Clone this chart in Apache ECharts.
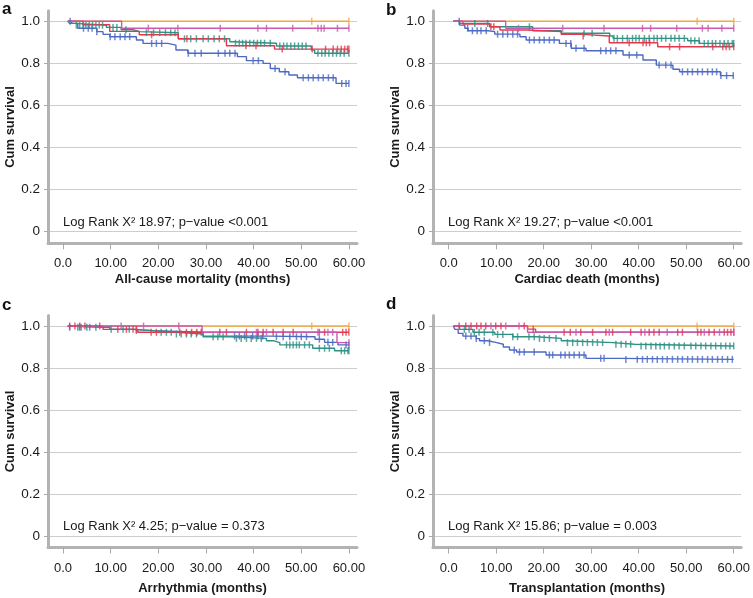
<!DOCTYPE html>
<html>
<head>
<meta charset="utf-8">
<script src="https://cdn.jsdelivr.net/npm/echarts@6/dist/echarts.min.js"></script>
<style>
html,body{margin:0;padding:0;background:#fff;}
#chart{width:753px;height:598px;}
</style>
</head>
<body>
<div id="chart"></div>
<script>
// ---------- Tick labels / titles ----------
const xTickValues = [0, 10, 20, 30, 40, 50, 60];
const yTickValues = [0, 0.2, 0.4, 0.6, 0.8, 1.0];
const panelLetters = ['a', 'b', 'c', 'd'];
const xAxisNames = ['All-cause mortality (months)', 'Cardiac death (months)', 'Arrhythmia (months)', 'Transplantation (months)'];
const yAxisName = 'Cum survival';
const logRankTexts = [
  'Log Rank X\u00B2 18.97; p\u2212value <0.001',
  'Log Rank X\u00B2 19.27; p\u2212value <0.001',
  'Log Rank X\u00B2 4.25; p\u2212value = 0.373',
  'Log Rank X\u00B2 15.86; p\u2212value = 0.003'
];

// ---------- Panel a: all-cause mortality ([month, cum survival] step points) ----------
const mortalityOrange = [[1,1],[60,1]];
const mortalityOrangeCens = [52.2, 60];
const mortalityMagenta = [[1,1],[12.3,0.967],[60,0.967]];
const mortalityMagentaCens = [17.9, 24.1, 33, 40.9, 42.7, 48.2, 53.5, 54.2, 54.8, 57.6, 60];
const mortalityRed = [[1,1],[4.2,0.984],[9.8,0.952],[16,0.936],[24.2,0.917],[34.3,0.884],[44.4,0.868],[60,0.868]];
const mortalityRedCens = [18.6, 26, 38.4, 40.5, 46, 52.3, 55.1, 56.7, 57.6, 58.4, 59.1, 59.7, 60];
const mortalityTeal = [[1,1],[1.4,0.99],[2.5,0.982],[9.1,0.971],[12.2,0.96],[14.7,0.951],[16.1,0.946],[24.2,0.917],[35,0.903],[35.6,0.896],[44.8,0.883],[52.1,0.864],[52.8,0.848],[60,0.848]];
const mortalityTealCens = [2.8,3.5,4.2,4.8,5.5,6.2,6.9,7.6,8.3,10.5,11.3,13.2,17.5,19,20.3,21.5,22.6,23.5,25.5,26.8,28,29.4,30.5,31.7,32.8,33.9,36.2,37,37.7,38.4,39.2,40,40.8,41.5,42.3,43.5,45.5,46.3,47,47.8,48.6,49.4,50.2,51,53.5,54.3,55,55.8,56.6,57.4,58.2,59,60];
const mortalityBlue = [[1,1],[1.8,0.99],[3.1,0.967],[7.1,0.951],[8.4,0.938],[9.8,0.927],[15.4,0.911],[16.8,0.895],[22,0.887],[23.7,0.864],[26.2,0.848],[36.6,0.832],[38.5,0.813],[42,0.8],[43.5,0.776],[45.4,0.76],[47.4,0.745],[49.2,0.732],[57.3,0.705],[60,0.705]];
const mortalityBlueCens = [1.5,4.3,5.3,6.1,7.1,9.9,10.9,12,13,14,18.6,19.6,20.7,26.3,27.7,29,32.6,34,35,36.1,39.9,41,44.5,46.6,50.4,51.5,52.5,53.6,54.6,55.7,56.7,58.5,59.4,60];

// ---------- Panel b: cardiac death ----------
const cardiacOrange = [[1,1],[60,1]];
const cardiacOrangeCens = [52.3, 60];
const cardiacMagenta = [[1,1],[12,0.967],[60,0.967]];
const cardiacMagentaCens = [14.7, 24, 32.7, 40.8, 42.5, 48, 53.4, 54.6, 57.5, 60];
const cardiacRed = [[1,1],[3,0.987],[8.7,0.974],[10.8,0.959],[16.4,0.951],[23.7,0.938],[28.2,0.93],[33.8,0.898],[44,0.879],[60,0.879]];
const cardiacRedCens = [8.9, 9.5, 28.3, 38, 40.9, 41.6, 42.3, 46.5, 48.6, 55.6, 57.7, 58.4, 59.1, 60];
const cardiacTeal = [[1,1],[2.3,0.99],[8.6,0.974],[17.7,0.955],[23.7,0.943],[33.9,0.93],[34.6,0.919],[50.3,0.908],[52.8,0.895],[60,0.895]];
const cardiacTealCens = [5.5,8.2,17,28.5,30.2,34.8,35.5,36.6,37.6,38.7,39.4,40.1,41.2,42.2,43.2,43.9,44.8,45.7,46.8,47.6,48.5,49.6,51,51.8,52.7,53.8,54.6,55.5,56.2,57.1,58,58.8,59.7,60];
const cardiacBlue = [[1,1],[2.3,0.982],[3.4,0.967],[4.1,0.955],[8.3,0.951],[9.7,0.939],[15,0.927],[16.3,0.911],[23.3,0.895],[25.8,0.872],[28.9,0.86],[36.7,0.84],[40.9,0.816],[43.7,0.792],[47.2,0.772],[48.6,0.76],[57.2,0.742],[60,0.742]];
const cardiacBlueCens = [2.2,4,5,6,6.8,7.9,10.3,11.4,12.4,13.5,14.5,17,18,19.1,20.1,21.2,22.2,24.7,25.7,26.8,28.5,32,33.1,34.1,35.2,38,39.6,44.3,45.7,46.8,49.2,50.3,51.3,52.4,53.4,54.5,55.5,56.4,57.3,58.5,59.9];

// ---------- Panel c: arrhythmia ----------
const arrhythmiaOrange = [[1,1],[60,1]];
const arrhythmiaOrangeCens = [52.2, 60];
const arrhythmiaMagenta = [[1,1],[29.2,0.97],[57.5,0.921],[60,0.921]];
const arrhythmiaMagentaCens = [12.2, 16.9, 24.3, 40.6, 42.7, 53.5, 55.6, 56.6, 60];
const arrhythmiaRed = [[1,1],[8.4,0.984],[15.7,0.97],[60,0.97]];
const arrhythmiaRedCens = [1.4,2.5,3.5,4.6,7.7,11.5,13.3,14.7,15.4,18.5,19.6,24.5,25.9,27,28.1,29,32.9,34.3,38.5,40.9,42,44.1,46.2,48.3,53.8,54.9,58.7,59.4,60];
const arrhythmiaTeal = [[1,1],[1.2,0.994],[9.8,0.984],[14.7,0.978],[18.9,0.97],[23.8,0.962],[29.4,0.949],[35,0.941],[42.7,0.93],[44.1,0.921],[45.5,0.91],[52.4,0.894],[57,0.882],[60,0.882]];
const arrhythmiaTealCens = [3.1,3.8,5,6.9,10.1,12.6,13.9,15.4,20.6,21.7,22.7,23.8,24.8,25.9,26.9,28,31.5,32.5,33.6,36.4,37.4,38.5,39.5,40.6,41.6,46.9,47.6,48.3,49,49.6,50.7,51.7,53.8,54.9,55.9,58.4,59.1,59.8,60];
const arrhythmiaBlue = [[1,1],[1.2,0.994],[9.8,0.984],[14.7,0.978],[18.9,0.97],[29.4,0.952],[43.4,0.949],[52.9,0.937],[54.9,0.922],[57.7,0.91],[60,0.91]];
const arrhythmiaBlueCens = [1.4,3.5,5.6,36,37,38.1,39.8,40.9,41.9,44.8,46.2,47.6,49,50,51.1,53.8,55.6,56.6,59.4,60];

// ---------- Panel d: transplantation ----------
const transplantOrange = [[1,1],[60,1]];
const transplantOrangeCens = [52.3, 60];
const transplantMagenta = [[1,1],[16.6,0.97],[60,0.97]];
const transplantMagentaCens = [8.9, 12, 14.8, 26.8, 33.8, 41.3, 46, 53.8, 57, 60];
const transplantRed = [[1,1],[16.6,0.985],[18.3,0.97],[60,0.97]];
const transplantRedCens = [2.2,3.6,4.7,5.9,6.8,7.8,9.9,11,15.9,17.8,24.3,25.6,27.8,30.3,33.1,34.5,38.3,40.5,42.2,43.2,44.3,48.2,49.2,52.4,53.1,54.8,55.9,58,58.7,59.4,60];
const transplantTeal = [[1,1],[2.3,0.984],[5.1,0.97],[9.7,0.96],[13.5,0.949],[18.4,0.941],[23.7,0.93],[24.7,0.921],[34.6,0.913],[39.1,0.905],[60,0.905]];
const transplantTealCens = [3.3,4.3,5.4,6.4,7.5,9.3,10.3,11.4,13.5,14.5,16.9,18,19.1,20.1,21.2,22.6,25,26.1,27.1,28.2,29.2,30.3,31.3,32.4,35.2,36.3,37.3,38.3,40.5,41.5,42.6,43.6,44.5,45.4,46.4,47.5,48.5,49.6,51,52,53.1,54.1,55.2,56.2,57.3,58.3,59.2,60];
const transplantBlue = [[1,1],[1.3,0.984],[2,0.965],[3,0.952],[5.8,0.94],[6.5,0.93],[8.2,0.922],[9.9,0.913],[11.5,0.9],[12.8,0.886],[14.3,0.876],[20.5,0.862],[28.9,0.846],[35.9,0.841],[60,0.841]];
const transplantBlueCens = [3.6,4.7,5.8,7.5,8.6,13.8,14.9,15.9,18,21.2,21.9,23.6,24.5,25.4,26.4,27.5,28.5,32,32.7,37.3,39.7,40.8,41.8,42.9,43.9,45,46,47.1,48.2,49.2,50.3,51.3,52.4,53.4,54.5,55.5,56.6,57.6,58.7,59.7];

// ---------- Styling ----------
const groupColors = {orange:'#f6a93a', magenta:'#c95aae', red:'#e2384e', teal:'#2f9184', blue:'#4d6ac3'};
const FONT = "'Liberation Sans', Arial, Helvetica, sans-serif";

const panels = [
  {groups: [
    ['orange', mortalityOrange, mortalityOrangeCens],
    ['blue', mortalityBlue, mortalityBlueCens],
    ['teal', mortalityTeal, mortalityTealCens],
    ['red', mortalityRed, mortalityRedCens],
    ['magenta', mortalityMagenta, mortalityMagentaCens]]},
  {groups: [
    ['orange', cardiacOrange, cardiacOrangeCens],
    ['blue', cardiacBlue, cardiacBlueCens],
    ['teal', cardiacTeal, cardiacTealCens],
    ['red', cardiacRed, cardiacRedCens],
    ['magenta', cardiacMagenta, cardiacMagentaCens]]},
  {groups: [
    ['orange', arrhythmiaOrange, arrhythmiaOrangeCens],
    ['blue', arrhythmiaBlue, arrhythmiaBlueCens],
    ['teal', arrhythmiaTeal, arrhythmiaTealCens],
    ['red', arrhythmiaRed, arrhythmiaRedCens],
    ['magenta', arrhythmiaMagenta, arrhythmiaMagentaCens]]},
  {groups: [
    ['orange', transplantOrange, transplantOrangeCens],
    ['blue', transplantBlue, transplantBlueCens],
    ['teal', transplantTeal, transplantTealCens],
    ['red', transplantRed, transplantRedCens],
    ['magenta', transplantMagenta, transplantMagentaCens]]}
];

// Layout (pixels)
const grids = [
  {left: 48,  top: 10.8,  width: 309,   height: 232.5},
  {left: 433, top: 10.8,  width: 308.5, height: 232.5},
  {left: 48,  top: 315.5, width: 309,   height: 232},
  {left: 433, top: 315.5, width: 308.5, height: 232}
];
const xRanges = [[-3.15, 61.7], [-3.3, 61.55], [-3.15, 61.7], [-3.3, 61.55]];
const yRanges = [[-0.055, 1.05], [-0.055, 1.05], [-0.055, 1.05], [-0.055, 1.05]];
const xNameGaps = [30, 30, 34, 34];

function survAt(curve, t) {
  let s = curve[0][1];
  for (const p of curve) { if (p[0] <= t) s = p[1]; }
  return s;
}

const axisLineStyle = {color: '#b3b3b3', width: 3};
const xAxis = [], yAxis = [], series = [], graphic = [];

panels.forEach((panel, i) => {
  xAxis.push({
    type: 'value', gridIndex: i, min: xRanges[i][0], max: xRanges[i][1],
    name: xAxisNames[i], nameLocation: 'middle', nameGap: xNameGaps[i],
    nameTextStyle: {fontFamily: FONT, fontSize: 13, fontWeight: 'bold', color: '#1a1a1a'},
    axisLine: {show: true, onZero: false, lineStyle: axisLineStyle},
    axisTick: {show: true, length: 6, customValues: xTickValues, lineStyle: {color: '#a8a8a8', width: 1}},
    axisLabel: {customValues: xTickValues, margin: 14, fontFamily: FONT, fontSize: 13, color: '#1a1a1a',
      formatter: v => v === 0 ? '0.0' : v.toFixed(2)},
    splitLine: {show: false}
  });
  yAxis.push({
    type: 'value', gridIndex: i, min: yRanges[i][0], max: yRanges[i][1],
    name: yAxisName, nameLocation: 'middle', nameGap: 30,
    nameTextStyle: {fontFamily: FONT, fontSize: 13, fontWeight: 'bold', color: '#1a1a1a'},
    axisLine: {show: true, onZero: false, lineStyle: axisLineStyle},
    axisTick: {show: true, length: 4, customValues: yTickValues, lineStyle: {color: '#a8a8a8', width: 1}},
    axisLabel: {customValues: yTickValues, margin: 8, fontFamily: FONT, fontSize: 13.5, color: '#1a1a1a',
      formatter: v => v === 0 ? '0' : v.toFixed(1)},
    splitLine: {show: true, lineStyle: {color: '#cdcdcd', width: 1}}
  });
  panel.groups.forEach(([colorKey, curve, cens]) => {
    const color = groupColors[colorKey];
    series.push({
      type: 'line', xAxisIndex: i, yAxisIndex: i, step: 'end', data: curve,
      showSymbol: false, silent: true, lineStyle: {color, width: 1.4}, z: 3
    });
    series.push({
      type: 'scatter', xAxisIndex: i, yAxisIndex: i,
      data: cens.map(t => [t, survAt(curve, t)]),
      symbol: 'rect', symbolSize: [1.5, 7], silent: true,
      itemStyle: {color}, z: 4
    });
  });
});

const letterPos = [[2, 9.5], [386, 10.5], [2, 305], [386, 304.5]];
const notePos = [[63, 222], [448, 222], [63, 526], [448, 526]];
panelLetters.forEach((l, i) => {
  graphic.push({type: 'text', x: letterPos[i][0], y: letterPos[i][1],
    style: {text: l, fontFamily: FONT, fontSize: 17, fontWeight: 'bold', fill: '#111', verticalAlign: 'middle'}});
  graphic.push({type: 'text', x: notePos[i][0], y: notePos[i][1],
    style: {text: logRankTexts[i], fontFamily: FONT, fontSize: 13, fill: '#1a1a1a', verticalAlign: 'middle'}});
});

const chart = echarts.init(document.getElementById('chart'), null, {renderer: 'canvas'});
chart.setOption({
  animation: false,
  backgroundColor: '#ffffff',
  grid: grids,
  xAxis, yAxis, series, graphic
});
</script>
</body>
</html>
